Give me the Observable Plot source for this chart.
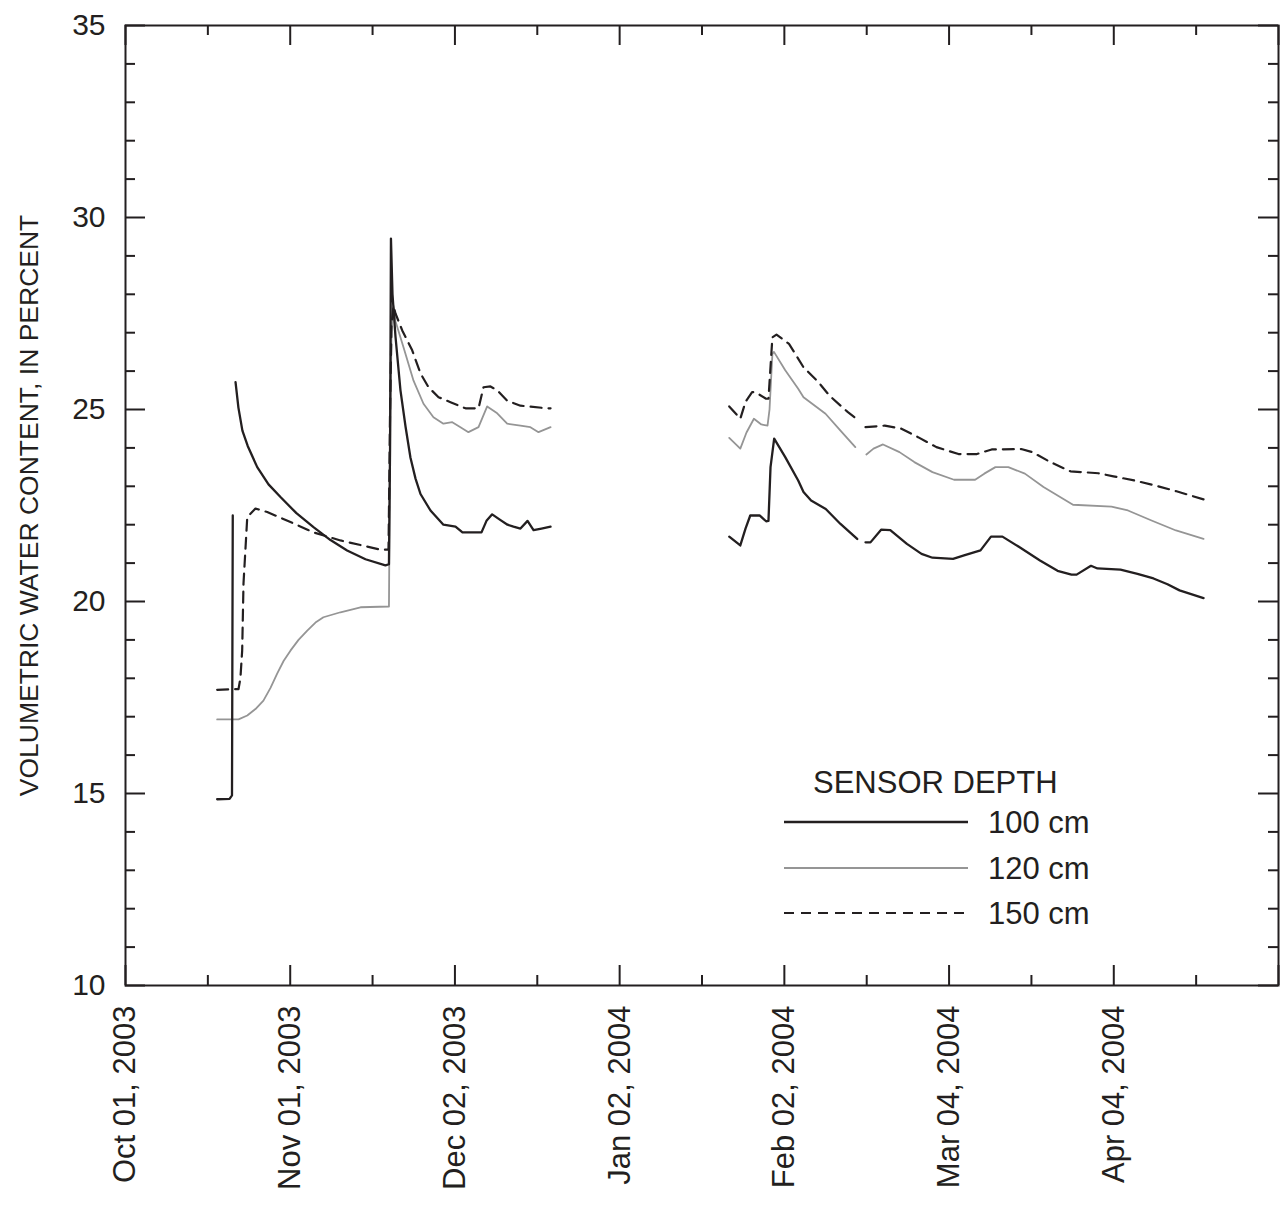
<!DOCTYPE html>
<html>
<head>
<meta charset="utf-8">
<script src="https://cdn.jsdelivr.net/npm/d3@7"></script>
<script src="https://cdn.jsdelivr.net/npm/@observablehq/plot@0.6"></script>
<style>
  body { margin: 0; background: #fff; }
  #wrap { position: relative; width: 1282px; height: 1205px; font-family: "Liberation Sans", Arial, sans-serif; }
  #legend { position: absolute; left: 0; top: 0; pointer-events: none; }
</style>
</head>
<body>
<div id="wrap"></div>
<script>
// ---------------- data ----------------
const depths = ["100 cm", "120 cm", "150 cm"];
const legendTitle = "SENSOR DEPTH";
const yTitle = "VOLUMETRIC WATER CONTENT, IN PERCENT";
const xDomain = ["2003-10-01T00:00", "2004-05-05T00:00"];
const yDomain = [10, 35];
const xMajorTicks = ["2003-10-01T00:00", "2003-11-01T00:00", "2003-12-02T00:00", "2004-01-02T00:00",
                     "2004-02-02T00:00", "2004-03-04T00:00", "2004-04-04T00:00", "2004-05-05T00:00"];
const xLabelTicks = ["2003-10-01T00:00", "2003-11-01T00:00", "2003-12-02T00:00", "2004-01-02T00:00",
                     "2004-02-02T00:00", "2004-03-04T00:00", "2004-04-04T00:00"];
const xMinorTicks = ["2003-10-16T12:00", "2003-11-16T12:00", "2003-12-17T12:00", "2004-01-17T12:00",
                     "2004-02-17T12:00", "2004-03-19T12:00", "2004-04-19T12:00"];
const yMajorTicks = [10, 15, 20, 25, 30, 35];
const yMinorTicks = [11, 12, 13, 14, 16, 17, 18, 19, 21, 22, 23, 24, 26, 27, 28, 29, 31, 32, 33, 34];

// 100 cm sensor (null = gap in record)
const d100 = [
  ["2003-10-18T06:00", 14.85], ["2003-10-20T14:00", 14.86], ["2003-10-21T01:00", 14.95], ["2003-10-21T04:30", 22.24],
  ["2003-10-21T10:00", null],
  ["2003-10-21T17:00", 25.71], ["2003-10-22T06:00", 25.05], ["2003-10-23T00:00", 24.45], ["2003-10-24T00:00", 24.05],
  ["2003-10-25T19:00", 23.5], ["2003-10-27T22:00", 23.05], ["2003-10-30T04:00", 22.72], ["2003-11-02T04:00", 22.3],
  ["2003-11-05T10:30", 21.93], ["2003-11-08T14:00", 21.6], ["2003-11-11T17:00", 21.33], ["2003-11-15T04:00", 21.1],
  ["2003-11-18T22:00", 20.94],
  ["2003-11-19T14:00", 20.97], ["2003-11-19T19:00", 24.0], ["2003-11-19T23:00", 29.45], ["2003-11-20T06:00", 28.0],
  ["2003-11-20T19:30", 26.9], ["2003-11-21T18:00", 25.5], ["2003-11-22T17:00", 24.55], ["2003-11-23T15:00", 23.75],
  ["2003-11-24T14:00", 23.2], ["2003-11-25T12:30", 22.8], ["2003-11-27T09:40", 22.37], ["2003-11-29T20:00", 22.0],
  ["2003-12-02T02:40", 21.95], ["2003-12-03T10:00", 21.8], ["2003-12-07T00:00", 21.8], ["2003-12-07T22:30", 22.1],
  ["2003-12-09T00:15", 22.27], ["2003-12-10T14:00", 22.12], ["2003-12-11T21:30", 22.0], ["2003-12-13T00:30", 21.95],
  ["2003-12-14T08:00", 21.9], ["2003-12-15T16:00", 22.1], ["2003-12-16T19:00", 21.86], ["2003-12-18T07:00", 21.9],
  ["2003-12-20T00:00", 21.95],
  ["2004-01-05T00:00", null],
  ["2004-01-22T15:00", 21.69], ["2004-01-24T17:00", 21.46], ["2004-01-25T16:30", 21.9], ["2004-01-26T14:00", 22.24],
  ["2004-01-28T08:00", 22.24], ["2004-01-29T13:30", 22.09], ["2004-01-30T00:15", 22.1], ["2004-01-30T09:30", 23.5],
  ["2004-01-31T02:00", 24.24], ["2004-02-02T04:00", 23.76], ["2004-02-04T14:30", 23.15], ["2004-02-05T14:30", 22.85],
  ["2004-02-07T00:45", 22.63], ["2004-02-09T19:00", 22.41], ["2004-02-12T13:30", 22.02], ["2004-02-15T17:00", 21.63],
  ["2004-02-16T12:00", null],
  ["2004-02-17T06:30", 21.54], ["2004-02-18T05:00", 21.54], ["2004-02-20T05:00", 21.87], ["2004-02-21T22:30", 21.86],
  ["2004-02-25T01:30", 21.5], ["2004-02-27T19:30", 21.24], ["2004-02-29T21:00", 21.14], ["2004-03-04T18:00", 21.11],
  ["2004-03-06T19:30", 21.2], ["2004-03-09T22:00", 21.33], ["2004-03-11T21:20", 21.69], ["2004-03-14T01:00", 21.69],
  ["2004-03-17T01:30", 21.43], ["2004-03-21T02:40", 21.07], ["2004-03-24T10:00", 20.8], ["2004-03-27T01:00", 20.7],
  ["2004-03-28T00:00", 20.7], ["2004-03-30T17:00", 20.93], ["2004-03-31T22:20", 20.86], ["2004-04-05T06:15", 20.83],
  ["2004-04-08T11:00", 20.72], ["2004-04-11T11:20", 20.6], ["2004-04-14T02:40", 20.45], ["2004-04-16T09:00", 20.29],
  ["2004-04-20T21:20", 20.09]
];

// 120 cm sensor
const d120 = [
  ["2003-10-18T06:00", 16.93], ["2003-10-22T06:30", 16.93], ["2003-10-23T22:00", 17.03], ["2003-10-25T11:00", 17.2],
  ["2003-10-26T23:00", 17.42], ["2003-10-28T07:00", 17.75], ["2003-10-29T13:00", 18.12], ["2003-10-30T18:00", 18.45],
  ["2003-11-01T01:00", 18.72], ["2003-11-02T13:30", 19.0], ["2003-11-04T05:00", 19.24], ["2003-11-05T18:00", 19.45],
  ["2003-11-07T06:00", 19.59], ["2003-11-10T11:00", 19.72], ["2003-11-14T05:30", 19.85], ["2003-11-19T14:00", 19.87],
  ["2003-11-19T19:00", 24.0], ["2003-11-20T01:30", 27.0], ["2003-11-20T10:30", 27.7], ["2003-11-20T19:30", 27.3],
  ["2003-11-22T07:40", 26.62], ["2003-11-24T05:00", 25.75], ["2003-11-26T02:00", 25.15], ["2003-11-27T23:00", 24.8],
  ["2003-11-29T20:00", 24.63], ["2003-12-01T12:00", 24.67], ["2003-12-03T01:00", 24.54], ["2003-12-04T13:00", 24.41],
  ["2003-12-06T10:30", 24.54], ["2003-12-08T01:40", 25.08], ["2003-12-09T23:00", 24.9], ["2003-12-11T20:00", 24.63],
  ["2003-12-14T08:00", 24.58], ["2003-12-16T05:00", 24.54], ["2003-12-17T17:30", 24.41], ["2003-12-20T00:00", 24.54],
  ["2004-01-05T00:00", null],
  ["2004-01-22T15:00", 24.26], ["2004-01-24T17:00", 23.98], ["2004-01-25T21:00", 24.4], ["2004-01-27T06:30", 24.76],
  ["2004-01-28T16:00", 24.61], ["2004-01-29T20:00", 24.58], ["2004-01-30T05:00", 25.0], ["2004-01-30T18:00", 26.45],
  ["2004-01-31T01:00", 26.5], ["2004-02-02T04:00", 26.02], ["2004-02-04T14:30", 25.54], ["2004-02-05T14:30", 25.32],
  ["2004-02-09T18:00", 24.89], ["2004-02-12T13:30", 24.45], ["2004-02-15T08:30", 24.02],
  ["2004-02-16T12:00", null],
  ["2004-02-17T10:30", 23.83], ["2004-02-18T18:40", 23.98], ["2004-02-20T13:40", 24.09], ["2004-02-23T16:00", 23.89],
  ["2004-02-26T11:00", 23.63], ["2004-02-29T21:00", 23.37], ["2004-03-04T22:20", 23.17], ["2004-03-08T21:40", 23.17],
  ["2004-03-10T15:00", 23.33], ["2004-03-12T17:15", 23.5], ["2004-03-15T03:40", 23.5], ["2004-03-18T06:30", 23.33],
  ["2004-03-21T18:30", 22.98], ["2004-03-27T07:40", 22.52], ["2004-04-03T13:40", 22.47], ["2004-04-06T16:00", 22.37],
  ["2004-04-11T02:30", 22.11], ["2004-04-15T17:00", 21.85], ["2004-04-20T21:20", 21.63]
];

// 150 cm sensor
const d150 = [
  ["2003-10-18T06:00", 17.7], ["2003-10-22T06:30", 17.72], ["2003-10-22T15:00", 18.0], ["2003-10-22T23:00", 18.72],
  ["2003-10-23T05:00", 20.47], ["2003-10-23T22:00", 22.2], ["2003-10-25T11:00", 22.42], ["2003-10-27T16:00", 22.33],
  ["2003-11-01T01:00", 22.07], ["2003-11-05T09:00", 21.8], ["2003-11-10T11:00", 21.59], ["2003-11-18T00:00", 21.35],
  ["2003-11-19T12:00", 21.35], ["2003-11-19T19:00", 25.0], ["2003-11-20T01:30", 27.2], ["2003-11-20T10:30", 27.7],
  ["2003-11-20T19:30", 27.5], ["2003-11-22T02:00", 27.06], ["2003-11-23T23:00", 26.54], ["2003-11-25T12:30", 25.94],
  ["2003-11-27T00:45", 25.58], ["2003-11-28T22:00", 25.32], ["2003-12-01T04:00", 25.19], ["2003-12-04T00:00", 25.03],
  ["2003-12-06T10:30", 25.03], ["2003-12-07T09:00", 25.58], ["2003-12-08T16:30", 25.6], ["2003-12-09T23:00", 25.5],
  ["2003-12-11T20:00", 25.23], ["2003-12-14T08:00", 25.1], ["2003-12-19T09:00", 25.03], ["2003-12-20T00:00", 25.03],
  ["2004-01-05T00:00", null],
  ["2004-01-22T15:00", 25.08], ["2004-01-24T17:00", 24.76], ["2004-01-25T16:30", 25.2], ["2004-01-26T22:20", 25.45],
  ["2004-01-27T13:40", 25.45], ["2004-01-29T13:30", 25.28], ["2004-01-30T00:15", 25.28], ["2004-01-30T18:00", 26.88],
  ["2004-01-31T12:30", 26.95], ["2004-02-02T21:00", 26.71], ["2004-02-05T14:30", 26.1], ["2004-02-08T10:20", 25.71],
  ["2004-02-10T12:00", 25.36], ["2004-02-13T23:00", 24.93], ["2004-02-15T14:00", 24.76],
  ["2004-02-16T12:00", null],
  ["2004-02-17T06:30", 24.54], ["2004-02-20T21:40", 24.58], ["2004-02-24T00:45", 24.5], ["2004-02-27T03:40", 24.28],
  ["2004-03-01T15:00", 24.02], ["2004-03-05T18:30", 23.84], ["2004-03-09T05:45", 23.84], ["2004-03-12T00:30", 23.96],
  ["2004-03-17T13:40", 23.97], ["2004-03-19T15:40", 23.89], ["2004-03-23T02:10", 23.63], ["2004-03-26T20:20", 23.39],
  ["2004-04-01T03:00", 23.34], ["2004-04-03T22:30", 23.26], ["2004-04-07T21:40", 23.15], ["2004-04-11T20:20", 23.02],
  ["2004-04-15T19:10", 22.87], ["2004-04-20T21:20", 22.66]
];

// ---------------- rendering ----------------
const ink = "#231f20";
const grey = "#959595";
const W = 1282, H = 1205;
const mL = 125, mR = 4, mT = 25, mB = 220;
const iw = W - mL - mR, ih = H - mT - mB;
const font = "'Liberation Sans', Arial, Helvetica, sans-serif";

const utc = s => new Date(s + "Z");
const rows = arr => arr.map(([t, v]) => ({date: utc(t), value: v == null ? NaN : v}));

const plot = Plot.plot({
  width: W, height: H,
  marginLeft: mL, marginRight: mR, marginTop: mT, marginBottom: mB,
  style: {fontFamily: font, color: ink, background: "#fff", overflow: "visible"},
  x: {type: "utc", domain: xDomain.map(utc)},
  y: {domain: yDomain},
  marks: [
    Plot.line(rows(d120), {x: "date", y: "value", stroke: grey, strokeWidth: 1.8}),
    Plot.line(rows(d150), {x: "date", y: "value", stroke: ink, strokeWidth: 2.2, strokeDasharray: "11,7"}),
    Plot.line(rows(d100), {x: "date", y: "value", stroke: ink, strokeWidth: 2.3}),
    // inward ticks on all four sides
    Plot.tickY(yMajorTicks, {y: d => d, insetRight: iw - 20, stroke: ink, strokeWidth: 2}),
    Plot.tickY(yMinorTicks, {y: d => d, insetRight: iw - 10, stroke: ink, strokeWidth: 2}),
    Plot.tickY(yMajorTicks, {y: d => d, insetLeft: iw - 20, stroke: ink, strokeWidth: 2}),
    Plot.tickY(yMinorTicks, {y: d => d, insetLeft: iw - 10, stroke: ink, strokeWidth: 2}),
    Plot.tickX(xMajorTicks.map(utc), {x: d => d, insetTop: ih - 20, stroke: ink, strokeWidth: 2}),
    Plot.tickX(xMinorTicks.map(utc), {x: d => d, insetTop: ih - 10, stroke: ink, strokeWidth: 2}),
    Plot.tickX(xMajorTicks.map(utc), {x: d => d, insetBottom: ih - 20, stroke: ink, strokeWidth: 2}),
    Plot.tickX(xMinorTicks.map(utc), {x: d => d, insetBottom: ih - 10, stroke: ink, strokeWidth: 2}),
    Plot.frame({stroke: ink, strokeWidth: 2}),
    Plot.axisY({ticks: yMajorTicks, tickSize: 0, tickPadding: 20, fontSize: 30, label: null}),
    Plot.axisX({ticks: xLabelTicks.map(utc), tickFormat: d3.utcFormat("%b %d, %Y"), tickRotate: -90,
                tickSize: 0, tickPadding: 20, fontSize: 31, label: null}),
    Plot.text([yTitle], {frameAnchor: "left", textAnchor: "middle", lineAnchor: "middle",
                         rotate: -90, dx: -96, fontSize: 26.5, fill: ink})
  ]
});

const wrap = document.getElementById("wrap");
wrap.appendChild(plot);

// legend (inside plot area, lower right)
const lg = d3.select(wrap).append("svg").attr("id", "legend")
  .attr("width", W).attr("height", H)
  .style("font-family", font).style("fill", ink);
lg.append("text").attr("x", 813).attr("y", 793).attr("font-size", 31).text(legendTitle);
const styles = [
  {stroke: ink, width: 2.3, dash: null},
  {stroke: grey, width: 1.8, dash: null},
  {stroke: ink, width: 2.2, dash: "10,7"}
];
const rowY = [822, 868, 913];
depths.forEach((name, i) => {
  const s = styles[i];
  const ln = lg.append("line").attr("x1", 784).attr("x2", 968).attr("y1", rowY[i]).attr("y2", rowY[i])
    .attr("stroke", s.stroke).attr("stroke-width", s.width);
  if (s.dash) ln.attr("stroke-dasharray", s.dash);
  lg.append("text").attr("x", 988).attr("y", rowY[i] + 11).attr("font-size", 31).text(name);
});
</script>
</body>
</html>
